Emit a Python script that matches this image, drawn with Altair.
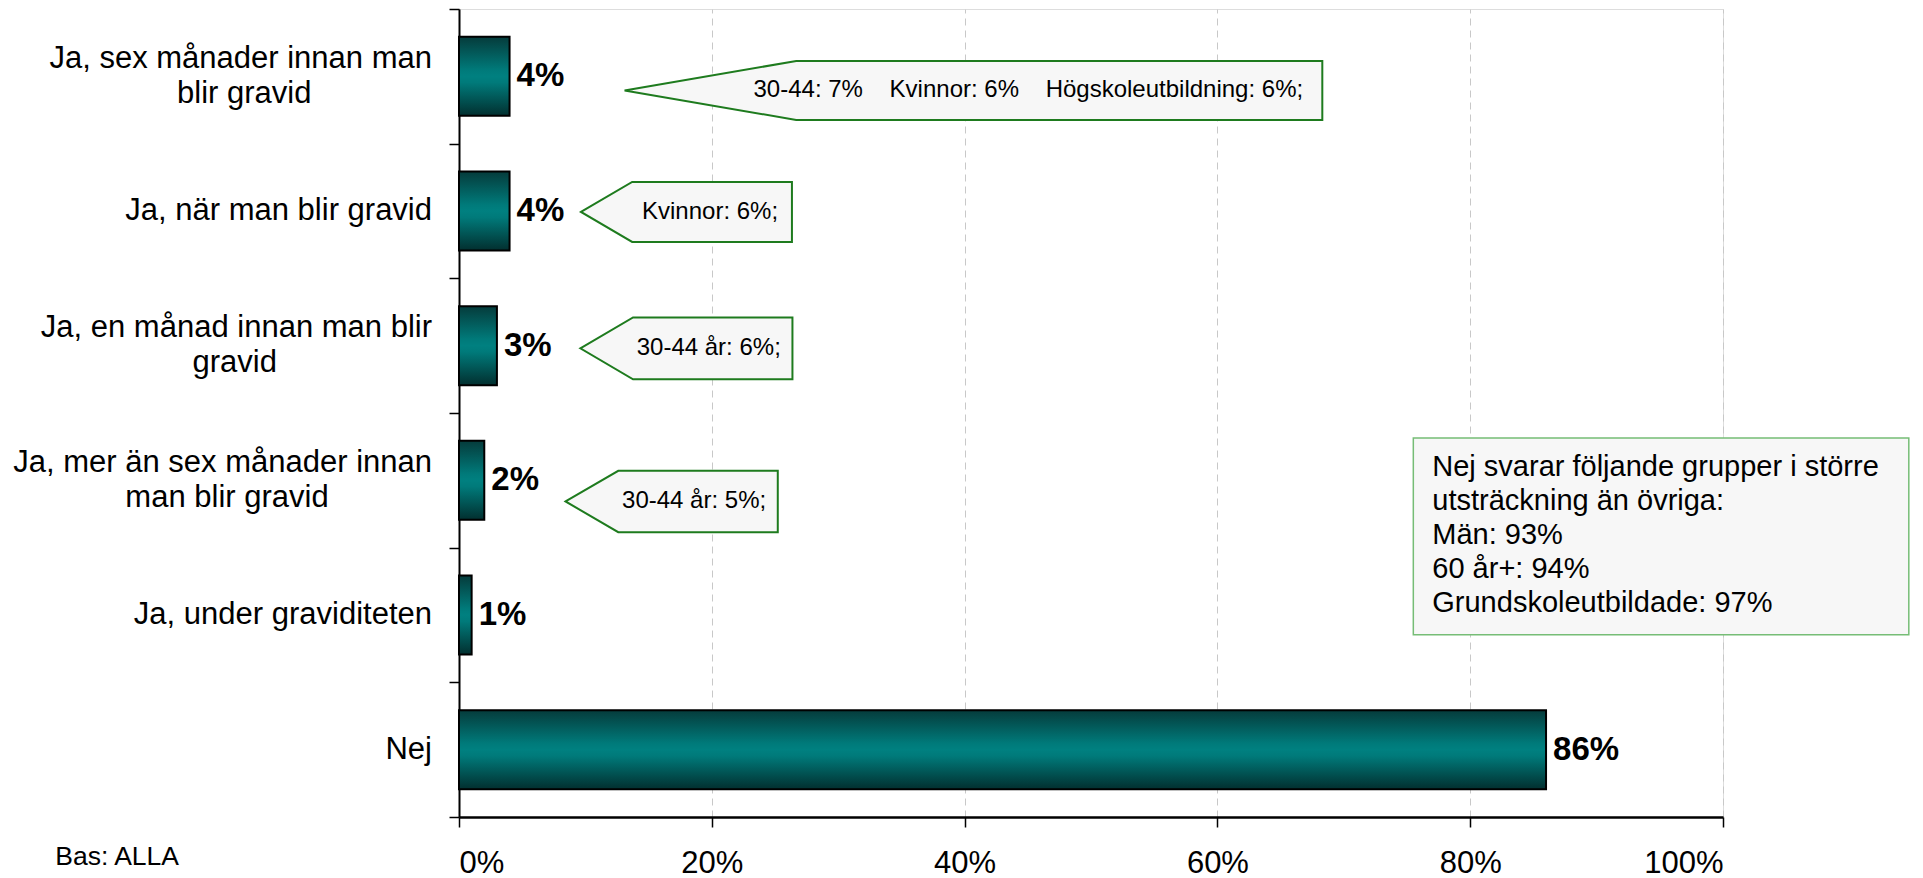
import altair as alt
import pandas as pd

FONT = "Liberation Sans"
NB = "\u00a0"
ZW = "\u200b"

# ---- data ----
categories = [
    "Ja, sex månader innan man|blir gravid" + NB * 14 + ZW,
    "Ja, när man blir gravid",
    "Ja, en månad innan man blir|gravid" + NB * 18 + ZW,
    "Ja, mer än sex månader innan|man blir gravid" + NB * 12 + ZW,
    "Ja, under graviditeten",
    "Nej",
]
values = [0.04, 0.04, 0.03, 0.02, 0.01, 0.86]

callout_texts = [
    "30-44: 7%" + NB * 4 + "Kvinnor: 6%" + NB * 4 + "Högskoleutbildning: 6%;",
    "Kvinnor: 6%;",
    "30-44 år: 6%;",
    "30-44 år: 5%;",
]
callout_tip_x = [0.131, 0.0965, 0.096, 0.0843]
callout_left_x = [0.2668, 0.137, 0.1377, 0.126]
callout_right_x = [0.683, 0.2634, 0.2638, 0.2522]
callout_center_y = [0.605, 1.507, 2.52, 3.657]   # in band units from top
callout_half_h = [0.219, 0.223, 0.23, 0.228]
callout_text_x = [0.233, 0.1448, 0.1406, 0.129]

nej_lines = [
    "Nej svarar följande grupper i större",
    "utsträckning än övriga:",
    "Män: 93%",
    "60 år+: 94%",
    "Grundskoleutbildade: 97%",
]
nej_box = dict(x=0.755, x2=1.147, y=3.185, y2=4.647)
nej_text_pos = dict(x=0.770, y=3.467)

band_edges = list(range(len(categories) + 1))

# ---- tables ----
bars_df = pd.DataFrame({"cat": categories, "v": values})

area_rows = []
for i in range(len(callout_texts)):
    yc, h = callout_center_y[i], callout_half_h[i]
    area_rows.append({"id": i, "x": callout_tip_x[i], "y": yc, "y2": yc})
    area_rows.append({"id": i, "x": callout_left_x[i], "y": yc - h, "y2": yc + h})
    area_rows.append({"id": i, "x": callout_right_x[i], "y": yc - h, "y2": yc + h})
area_df = pd.DataFrame(area_rows)

ctext_df = pd.DataFrame({
    "label": callout_texts,
    "x": callout_text_x,
    "y": callout_center_y,
})

nej_rect_df = pd.DataFrame([nej_box])
nej_text_df = pd.DataFrame([{"x": nej_text_pos["x"], "y": nej_text_pos["y"],
                             "t": "\n".join(nej_lines)}])

W, H = 1264, 808

xscale = alt.Scale(domain=[0, 1], nice=False, zero=True)
xaxis = alt.Axis(
    format=".0%", values=[0, 0.2, 0.4, 0.6, 0.8, 1.0], title=None,
    grid=True, gridDash=[7, 5], gridColor="#c8c8c8", gridWidth=1,
    tickSize=10, tickColor="black", tickWidth=1.5,
    domainColor="black", domainWidth=2.5,
    labelFontSize=31, labelFont=FONT, labelColor="black", labelPadding=21,
)

gradient = alt.Gradient(
    gradient="linear",
    stops=[
        alt.GradientStop(color="#053b3b", offset=0),
        alt.GradientStop(color="#007a7a", offset=0.42),
        alt.GradientStop(color="#008080", offset=0.5),
        alt.GradientStop(color="#007a7a", offset=0.58),
        alt.GradientStop(color="#022f2f", offset=1),
    ],
    x1=0, x2=0, y1=0, y2=1,
)

yband = alt.Y(
    "cat:N", sort=categories, title=None,
    scale=alt.Scale(paddingInner=0.413, paddingOuter=0.2065),
    axis=alt.Axis(
        labels=False, ticks=False,
        domainColor="black", domainWidth=2, grid=False,
    ),
)

bars = alt.Chart(bars_df).mark_bar(
    color=gradient, stroke="black", strokeWidth=2,
).encode(x=alt.X("v:Q", scale=xscale, axis=xaxis), y=yband)

bar_labels = alt.Chart(bars_df).mark_text(
    align="left", baseline="middle", dx=7, fontSize=33, fontWeight="bold",
    font=FONT, color="black"
).encode(
    x=alt.X("v:Q", scale=xscale, axis=xaxis),
    y=yband,
    text=alt.Text("v:Q", format=".0%"),
)

label_style = dict(align="right", baseline="middle", fontSize=31, font=FONT,
                   color="black", lineBreak="|", lineHeight=35)
ylab_single = alt.Chart(bars_df).transform_filter(
    "indexof(datum.cat, '|') < 0"
).mark_text(**label_style).encode(
    x=alt.value(-27), y=yband, text="cat:N"
)
ylab_double = alt.Chart(bars_df).transform_filter(
    "indexof(datum.cat, '|') >= 0"
).mark_text(dy=-17.5, **label_style).encode(
    x=alt.value(-27), y=yband, text="cat:N"
)

main = alt.layer(bars, bar_labels, ylab_single, ylab_double)

yq = alt.Scale(domain=[0, 6], reverse=True, nice=False, zero=False)
yq_axis = alt.Axis(
    orient="left", values=band_edges, labels=False, domain=False, grid=False,
    ticks=True, tickSize=10, tickColor="black", tickWidth=1.5, title=None,
)

callouts = alt.Chart(area_df).mark_area(
    orient="vertical", fill="#f7f7f7", stroke="#1e7b1e", strokeWidth=2,
    fillOpacity=1, interpolate="linear"
).encode(
    x=alt.X("x:Q", scale=xscale, axis=xaxis),
    y=alt.Y("y:Q", scale=yq, axis=yq_axis),
    y2="y2:Q",
    detail="id:N",
)

callout_text = alt.Chart(ctext_df).mark_text(
    align="left", baseline="middle", fontSize=24, font=FONT, color="black"
).encode(
    x=alt.X("x:Q", scale=xscale, axis=xaxis),
    y=alt.Y("y:Q", scale=yq, axis=yq_axis),
    text="label:N",
)

nej_rect = alt.Chart(nej_rect_df).mark_rect(
    fill="#f7f7f7", stroke="#76bd76", strokeWidth=1.5
).encode(
    x=alt.X("x:Q", scale=xscale, axis=xaxis), x2="x2:Q",
    y=alt.Y("y:Q", scale=yq, axis=yq_axis), y2="y2:Q",
)

nej_text = alt.Chart(nej_text_df).mark_text(
    align="left", baseline="alphabetic", fontSize=29, font=FONT,
    color="black", lineBreak="\n", lineHeight=34
).encode(
    x=alt.X("x:Q", scale=xscale, axis=xaxis),
    y=alt.Y("y:Q", scale=yq, axis=yq_axis),
    text="t:N",
)

annot = alt.layer(callouts, callout_text, nej_rect, nej_text)

chart = alt.layer(main, annot).resolve_scale(y="independent").properties(
    width=W, height=H,
    padding={"left": 5, "top": 0, "right": 2, "bottom": 0},
    title=alt.TitleParams(
        "Bas: ALLA", orient="bottom", anchor="start", frame="bounds",
        fontSize=26.5, fontWeight="normal", font=FONT, color="black",
        dx=42, dy=-34, offset=0,
    ),
).configure_view(stroke="#333333", strokeWidth=2).configure(background="white")

chart.save("out.html", embed_options={"renderer": "svg", "actions": False})
